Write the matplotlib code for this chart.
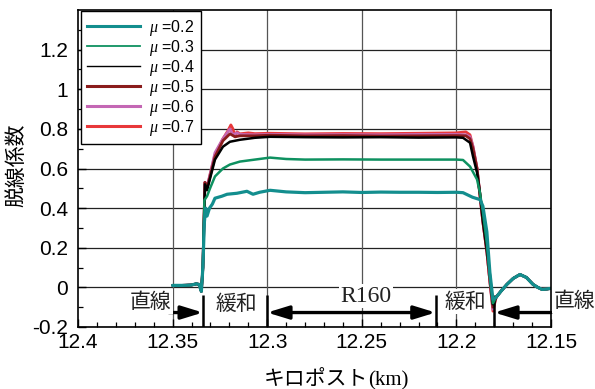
import matplotlib
matplotlib.use("Agg")
import matplotlib.pyplot as plt
from matplotlib.lines import Line2D

plt.rcParams['font.family'] = ['Liberation Sans', 'DejaVu Sans']
plt.rcParams['mathtext.fontset'] = 'custom'
plt.rcParams['mathtext.it'] = 'Liberation Serif:italic'
plt.rcParams['mathtext.rm'] = 'Liberation Sans'

# ---------------- data (km, derailment coefficient) ----------------
approach_x = [12.350, 12.345, 12.340, 12.3375, 12.3360, 12.3348]
approach_y = [0.010, 0.010, 0.012, 0.018, 0.015, -0.020]

exit_x = [12.1790, 12.1765, 12.1733, 12.1700, 12.1664, 12.1630, 12.1595, 12.1570, 12.1548, 12.1520, 12.1500]
exit_y = [-0.050, -0.020, 0.015, 0.045, 0.065, 0.050, 0.015, 0.000, -0.010, -0.008, -0.005]

mu02_x = [12.3340, 12.3332, 12.3325, 12.3318, 12.3305, 12.3290, 12.3276, 12.3240, 12.3212, 12.3160,
          12.3107, 12.3075, 12.3040, 12.2985, 12.2900, 12.2800, 12.2700, 12.2600, 12.2500, 12.2400,
          12.2300, 12.2200, 12.2100, 12.2000, 12.1965, 12.1915, 12.1875, 12.1860, 12.1839, 12.1823, 12.1807]
mu02_y = [0.10, 0.33, 0.40, 0.36, 0.40, 0.42, 0.45, 0.46, 0.47, 0.475,
          0.485, 0.47, 0.48, 0.49, 0.482, 0.478, 0.48, 0.482, 0.479, 0.481,
          0.48, 0.48, 0.479, 0.48, 0.478, 0.455, 0.443, 0.41, 0.28, 0.075, -0.06]

mu03_x = [12.3340, 12.3332, 12.3318, 12.3302, 12.3276, 12.3234, 12.3197, 12.3144, 12.3065, 12.2985,
          12.2900, 12.2800, 12.2600, 12.2400, 12.2200, 12.2000, 12.1965, 12.1928, 12.1891, 12.1876,
          12.1860, 12.1839, 12.1823, 12.1807]
mu03_y = [0.10, 0.44, 0.46, 0.50, 0.56, 0.60, 0.62, 0.635, 0.645, 0.655,
          0.648, 0.645, 0.646, 0.645, 0.645, 0.645, 0.643, 0.61, 0.545, 0.48,
          0.38, 0.22, 0.05, -0.08]

mu04_x = [12.3340, 12.3329, 12.3318, 12.3302, 12.3276, 12.3234, 12.3197, 12.3144, 12.3065, 12.2985,
          12.2800, 12.2600, 12.2400, 12.2200, 12.2000, 12.1965, 12.1928, 12.1912, 12.1891, 12.1876,
          12.1860, 12.1839, 12.1823, 12.1807]
mu04_y = [0.10, 0.52, 0.49, 0.55, 0.645, 0.71, 0.735, 0.745, 0.755, 0.76,
          0.758, 0.757, 0.758, 0.756, 0.757, 0.755, 0.73, 0.66, 0.58, 0.48,
          0.34, 0.19, 0.065, -0.085]

mu05_x = [12.3340, 12.3329, 12.3318, 12.3302, 12.3276, 12.3234, 12.3197, 12.3170, 12.3144, 12.3065,
          12.2985, 12.2800, 12.2600, 12.2400, 12.2200, 12.2000, 12.1950, 12.1928, 12.1912, 12.1891,
          12.1876, 12.1860, 12.1839, 12.1823, 12.1807]
mu05_y = [0.10, 0.53, 0.50, 0.56, 0.66, 0.74, 0.775, 0.76, 0.765, 0.765,
          0.768, 0.765, 0.766, 0.764, 0.765, 0.766, 0.765, 0.75, 0.70, 0.60,
          0.47, 0.33, 0.18, 0.03, -0.10]

mu06_x = [12.3340, 12.3329, 12.3318, 12.3302, 12.3276, 12.3234, 12.3208, 12.3197, 12.3181, 12.3160,
          12.3144, 12.3065, 12.2985, 12.2800, 12.2600, 12.2400, 12.2200, 12.2000, 12.1950, 12.1928,
          12.1912, 12.1891, 12.1876, 12.1860, 12.1839, 12.1823, 12.1807]
mu06_y = [0.10, 0.53, 0.51, 0.57, 0.68, 0.75, 0.785, 0.80, 0.77, 0.78,
          0.772, 0.77, 0.772, 0.77, 0.771, 0.77, 0.772, 0.772, 0.77, 0.76,
          0.71, 0.60, 0.47, 0.33, 0.18, 0.03, -0.11]

mu07_x = [12.3340, 12.3329, 12.3318, 12.3302, 12.3276, 12.3234, 12.3208, 12.3192, 12.3181, 12.3170,
          12.3160, 12.3144, 12.3100, 12.3065, 12.2985, 12.2800, 12.2600, 12.2400, 12.2200, 12.2000,
          12.1950, 12.1928, 12.1912, 12.1891, 12.1876, 12.1860, 12.1839, 12.1823, 12.1807]
mu07_y = [0.10, 0.53, 0.50, 0.57, 0.67, 0.75, 0.79, 0.82, 0.80, 0.76,
          0.785, 0.775, 0.78, 0.776, 0.778, 0.775, 0.777, 0.776, 0.778, 0.78,
          0.785, 0.77, 0.71, 0.60, 0.47, 0.33, 0.18, 0.03, -0.12]

series_labels = ['0.2', '0.3', '0.4', '0.5', '0.6', '0.7']
series_x = [mu02_x, mu03_x, mu04_x, mu05_x, mu06_x, mu07_x]
series_y = [mu02_y, mu03_y, mu04_y, mu05_y, mu06_y, mu07_y]
series_colors = ['#138e8e', '#0e9160', '#000000', '#8a1c1c', '#c467b4', '#e8383a']
series_lw = [2.3, 1.8, 1.8, 2.0, 2.0, 2.0]
legend_lw = [2.2, 1.3, 1.0, 2.2, 2.2, 2.2]

section_bounds = [12.35, 12.334, 12.30, 12.211, 12.18, 12.15]
section_names = ['直線', '緩和', 'R160', '緩和', '直線']
section_label_x = [12.3616, 12.3165, 12.2478, 12.1955, 12.1378]
section_label_y = [-0.073, -0.085, -0.045, -0.072, -0.068]

x_ticks = [12.4, 12.35, 12.3, 12.25, 12.2, 12.15]
x_ticklabels = ['12.4', '12.35', '12.3', '12.25', '12.2', '12.15']
y_ticks = [-0.2, 0, 0.2, 0.4, 0.6, 0.8, 1, 1.2]
y_ticklabels = ['-0.2', '0', '0.2', '0.4', '0.6', '0.8', '1', '1.2']

# ---------------- figure ----------------
fig = plt.figure(figsize=(5.95, 3.89), dpi=100)
ax = fig.add_axes([78 / 595, 1 - 327 / 389, 473 / 595, 317 / 389])
ax.set_xlim(12.4, 12.15)
ax.set_ylim(-0.2, 1.4)

# grid
for yv in [-0.2, 0, 0.2, 0.4, 0.6, 0.8, 1.0, 1.2]:
    ax.axhline(yv, color='#222222', lw=0.9, zorder=1)
for xv in [12.35, 12.3, 12.25, 12.2]:
    ax.axvline(xv, color='#555555', lw=0.9, zorder=1)

handles = []
order = list(range(len(series_labels)))
for i in reversed(order):
    xs = approach_x + series_x[i] + exit_x
    ys = approach_y + series_y[i] + exit_y
    ax.plot(xs, ys, color=series_colors[i], lw=series_lw[i], zorder=3 + (5 - i),
            solid_joinstyle='round', solid_capstyle='round')
for i in order:
    handles.append(Line2D([], [], color=series_colors[i], lw=legend_lw[i],
                          label=r'$\mu$ =' + series_labels[i]))

leg = ax.legend(handles=handles, loc='upper left', bbox_to_anchor=(0.006, 0.996),
                fontsize=11.5, frameon=True, fancybox=False, framealpha=1,
                edgecolor='black', handlelength=3.3, handletextpad=0.55,
                labelspacing=0.0, borderpad=0.4, borderaxespad=0.0)
leg.get_frame().set_linewidth(1.0)
leg.set_zorder(20)

# section annotations
cjk = ['Noto Sans CJK JP', 'DejaVu Sans']
arrow_y = -0.127
ax.vlines(section_bounds[1:5], -0.2, -0.04, colors='black', lw=1.8, zorder=6)
astyle = '-|>,head_length=0.65,head_width=0.2'
ax.annotate('', xy=(section_bounds[1], arrow_y), xytext=(section_bounds[0] + 0.002, arrow_y),
            arrowprops=dict(arrowstyle=astyle, color='black', lw=2.4, shrinkA=0, shrinkB=0,
                            mutation_scale=20), zorder=7)
ax.annotate('', xy=(section_bounds[2], arrow_y), xytext=(section_bounds[3], arrow_y),
            arrowprops=dict(arrowstyle='<|-|>,head_length=0.65,head_width=0.2', color='black',
                            lw=2.4, shrinkA=0, shrinkB=0, mutation_scale=20), zorder=7)
ax.annotate('', xy=(section_bounds[4], arrow_y), xytext=(section_bounds[5], arrow_y),
            arrowprops=dict(arrowstyle=astyle, color='black', lw=2.4, shrinkA=0, shrinkB=0,
                            mutation_scale=20), zorder=7)

for name, lx, ly in zip(section_names, section_label_x, section_label_y):
    if name.startswith('R'):
        ax.text(lx, ly, name, fontsize=17, family='Liberation Serif', ha='center', va='center',
                color='#222222', zorder=8, clip_on=False,
                bbox=dict(facecolor='white', edgecolor='none', pad=1.0))
    else:
        ax.text(lx, ly, name, fontsize=15, family=cjk, ha='center', va='center',
                color='#222222', zorder=8, clip_on=False,
                bbox=dict(facecolor='white', edgecolor='none', pad=1.0))

# axes styling
ax.set_xticks(x_ticks)
ax.set_xticklabels(x_ticklabels)
ax.set_yticks(y_ticks)
ax.set_yticklabels(y_ticklabels)
ax.set_xticks([12.39, 12.38, 12.37, 12.36, 12.34, 12.33, 12.32, 12.31, 12.29, 12.28, 12.27, 12.26,
               12.24, 12.23, 12.22, 12.21, 12.19, 12.18, 12.17, 12.16], minor=True)
ax.set_yticks([-0.1, 0.1, 0.3, 0.5, 0.7, 0.9, 1.1, 1.3], minor=True)
ax.tick_params(axis='both', which='major', direction='in', length=6, width=1.0,
               labelsize=15, colors='black')
ax.tick_params(axis='both', which='minor', direction='in', length=3.5, width=0.9)
ax.tick_params(axis='x', pad=4)
ax.tick_params(axis='y', pad=7)
for s in ax.spines.values():
    s.set_linewidth(1.2)
    s.set_zorder(10)

fig.text(16 / 595, 1 - 165 / 389, '脱線係数', family=cjk, fontsize=15, rotation=90,
         ha='center', va='center')
fig.text(368 / 595, 1 - 385 / 389, 'キロポスト', family=cjk, fontsize=15, ha='right', va='baseline')
fig.text(368 / 595, 1 - 385 / 389, '(km)', family='Liberation Serif', fontsize=15, ha='left',
         va='baseline')

fig.savefig('out.png', dpi=100)
